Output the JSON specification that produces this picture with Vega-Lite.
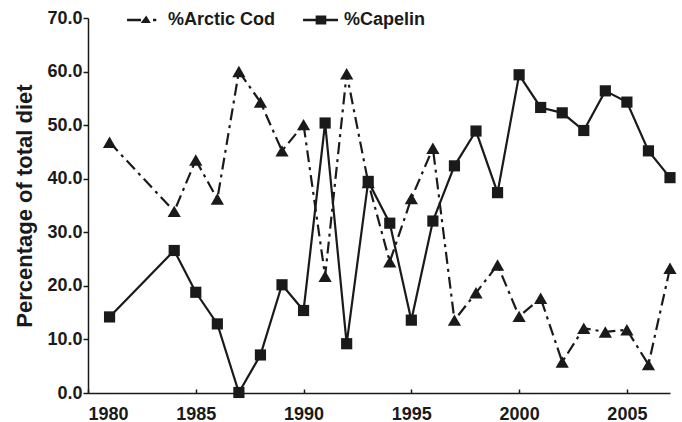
{
  "$schema": "https://vega.github.io/schema/vega-lite/v6.json",
  "width": 582,
  "height": 375,
  "autosize": {"type": "none"},
  "padding": {"left": 88, "top": 18, "right": 12, "bottom": 29},
  "config": {
    "view": {"stroke": null},
    "font": "Liberation Sans",
    "axis": {
      "domainColor": "#1a1a1a",
      "domainWidth": 1.5,
      "tickColor": "#1a1a1a",
      "tickWidth": 1.5,
      "labelFont": "Liberation Sans",
      "labelFontSize": 18,
      "labelFontWeight": "bold",
      "labelColor": "#1a1a1a",
      "titleFont": "Liberation Sans",
      "titleFontSize": 22,
      "titleFontWeight": "bold",
      "titleColor": "#1a1a1a",
      "grid": false
    }
  },
  "data": {
    "values": [
      {"year": 1981, "species": "%Arctic Cod", "value": 46.8},
      {"year": 1984, "species": "%Arctic Cod", "value": 33.9},
      {"year": 1985, "species": "%Arctic Cod", "value": 43.5},
      {"year": 1986, "species": "%Arctic Cod", "value": 36.2},
      {"year": 1987, "species": "%Arctic Cod", "value": 60.0},
      {"year": 1988, "species": "%Arctic Cod", "value": 54.3},
      {"year": 1989, "species": "%Arctic Cod", "value": 45.2},
      {"year": 1990, "species": "%Arctic Cod", "value": 50.1},
      {"year": 1991, "species": "%Arctic Cod", "value": 21.8},
      {"year": 1992, "species": "%Arctic Cod", "value": 59.6},
      {"year": 1993, "species": "%Arctic Cod", "value": 39.3},
      {"year": 1994, "species": "%Arctic Cod", "value": 24.5},
      {"year": 1995, "species": "%Arctic Cod", "value": 36.3},
      {"year": 1996, "species": "%Arctic Cod", "value": 45.7},
      {"year": 1997, "species": "%Arctic Cod", "value": 13.6},
      {"year": 1998, "species": "%Arctic Cod", "value": 18.7},
      {"year": 1999, "species": "%Arctic Cod", "value": 23.9},
      {"year": 2000, "species": "%Arctic Cod", "value": 14.3},
      {"year": 2001, "species": "%Arctic Cod", "value": 17.7},
      {"year": 2002, "species": "%Arctic Cod", "value": 5.8},
      {"year": 2003, "species": "%Arctic Cod", "value": 12.1},
      {"year": 2004, "species": "%Arctic Cod", "value": 11.4},
      {"year": 2005, "species": "%Arctic Cod", "value": 11.8},
      {"year": 2006, "species": "%Arctic Cod", "value": 5.3},
      {"year": 2007, "species": "%Arctic Cod", "value": 23.3},
      {"year": 1981, "species": "%Capelin", "value": 14.2},
      {"year": 1984, "species": "%Capelin", "value": 26.6},
      {"year": 1985, "species": "%Capelin", "value": 18.8},
      {"year": 1986, "species": "%Capelin", "value": 12.9},
      {"year": 1987, "species": "%Capelin", "value": 0.1},
      {"year": 1988, "species": "%Capelin", "value": 7.1},
      {"year": 1989, "species": "%Capelin", "value": 20.2},
      {"year": 1990, "species": "%Capelin", "value": 15.4},
      {"year": 1991, "species": "%Capelin", "value": 50.4},
      {"year": 1992, "species": "%Capelin", "value": 9.2},
      {"year": 1993, "species": "%Capelin", "value": 39.5},
      {"year": 1994, "species": "%Capelin", "value": 31.7},
      {"year": 1995, "species": "%Capelin", "value": 13.6},
      {"year": 1996, "species": "%Capelin", "value": 32.1},
      {"year": 1997, "species": "%Capelin", "value": 42.4},
      {"year": 1998, "species": "%Capelin", "value": 48.9},
      {"year": 1999, "species": "%Capelin", "value": 37.4},
      {"year": 2000, "species": "%Capelin", "value": 59.4},
      {"year": 2001, "species": "%Capelin", "value": 53.3},
      {"year": 2002, "species": "%Capelin", "value": 52.3},
      {"year": 2003, "species": "%Capelin", "value": 49.0},
      {"year": 2004, "species": "%Capelin", "value": 56.4},
      {"year": 2005, "species": "%Capelin", "value": 54.3},
      {"year": 2006, "species": "%Capelin", "value": 45.2},
      {"year": 2007, "species": "%Capelin", "value": 40.2}
    ]
  },
  "encoding": {
    "x": {
      "field": "year",
      "type": "quantitative",
      "scale": {"domain": [1980, 2007], "nice": false, "zero": false},
      "axis": {
        "title": null,
        "values": [1980, 1985, 1990, 1995, 2000, 2005],
        "format": "d",
        "tickSize": -4,
        "labelPadding": 16
      }
    },
    "y": {
      "field": "value",
      "type": "quantitative",
      "scale": {"domain": [0, 70], "nice": false},
      "axis": {
        "title": "Percentage of total diet",
        "values": [0, 10, 20, 30, 40, 50, 60, 70],
        "format": ".1f",
        "tickSize": 5,
        "labelPadding": 1,
        "titlePadding": 10
      }
    }
  },
  "layer": [
    {
      "transform": [{"filter": "datum.species === '%Arctic Cod'"}],
      "mark": {"type": "line", "color": "#1a1a1a", "strokeWidth": 2.2, "strokeDash": [12, 5, 3, 5]}
    },
    {
      "transform": [{"filter": "datum.species === '%Capelin'"}],
      "mark": {"type": "line", "color": "#1a1a1a", "strokeWidth": 2.2}
    },
    {
      "transform": [{"filter": "datum.species === '%Arctic Cod'"}],
      "mark": {"type": "point", "shape": "triangle-up", "filled": true, "color": "#1a1a1a", "opacity": 1, "size": 175}
    },
    {
      "transform": [{"filter": "datum.species === '%Capelin'"}],
      "mark": {"type": "point", "shape": "square", "filled": true, "color": "#1a1a1a", "opacity": 1, "size": 125}
    },
    {
      "mark": {"type": "point", "filled": true, "color": "#1a1a1a", "opacity": 0, "size": 900},
      "encoding": {
        "shape": {
          "field": "species",
          "type": "nominal",
          "scale": {
            "domain": ["%Arctic Cod", "%Capelin"],
            "range": [
              "M-1.13,-0.08H-0.2V0.08H-1.13ZM-0.22,0.2L0.15,-0.3L0.45,0.2ZM0.6,-0.08H0.82V0.08H0.6Z",
              "M-1.13,-0.08H1.2V0.08H-1.13ZM-0.29,-0.3H0.42V0.3H-0.29Z"
            ]
          },
          "legend": {
            "title": null,
            "orient": "none",
            "legendX": 40,
            "legendY": -14,
            "padding": 0,
            "direction": "horizontal",
            "labelFont": "Liberation Sans",
            "labelFontSize": 18,
            "labelFontWeight": "bold",
            "labelColor": "#1a1a1a",
            "labelOffset": 8,
            "columnPadding": 24,
            "symbolSize": 900,
            "symbolOpacity": 1,
            "symbolFillColor": "#1a1a1a",
            "encode": {"symbols": {"update": {"opacity": {"value": 1}}}}
          }
        }
      }
    }
  ]
}
